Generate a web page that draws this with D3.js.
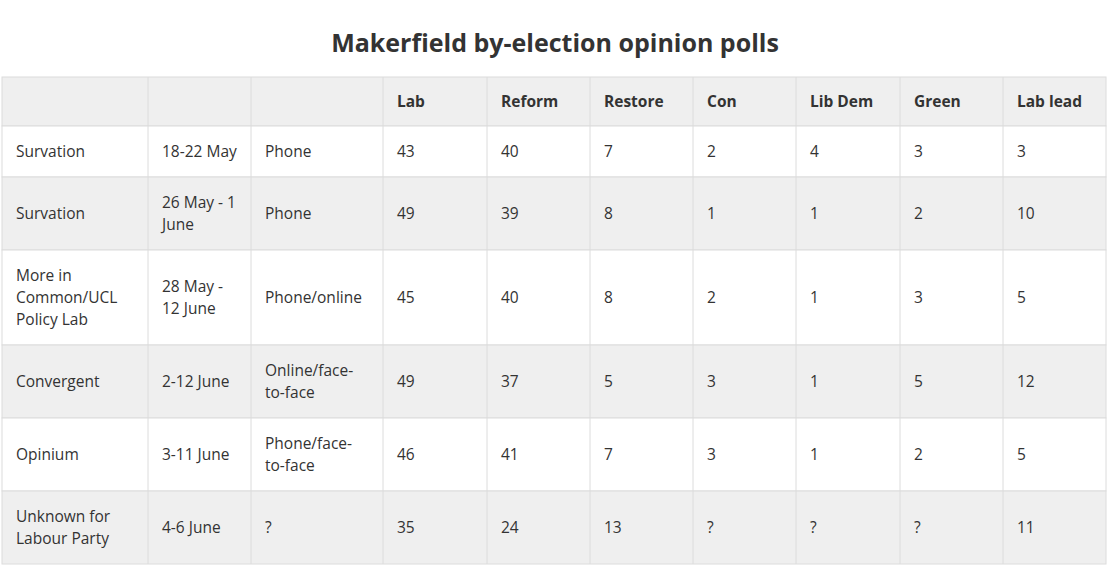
<!DOCTYPE html>
<html><head><meta charset="utf-8">
<script src="https://cdn.jsdelivr.net/npm/d3@7"></script>
<style>body{margin:0;background:#fff;font-family:"Open Sans","Noto Sans",sans-serif;}</style>
</head><body>
<svg id="chart" width="1117" height="576"></svg>
<script>
var title = "Makerfield by-election opinion polls";
var headers = ["", "", "", "Lab", "Reform", "Restore", "Con", "Lib Dem", "Green", "Lab lead"];
// multi-line cells split with "|"
var pollsters = ["Survation", "Survation", "More in|Common/UCL|Policy Lab", "Convergent", "Opinium", "Unknown for|Labour Party"];
var dates = ["18-22 May", "26 May - 1|June", "28 May -|12 June", "2-12 June", "3-11 June", "4-6 June"];
var methods = ["Phone", "Phone", "Phone/online", "Online/face-|to-face", "Phone/face-|to-face", "?"];
var lab = [43, 49, 45, 49, 46, 35];
var reform = [40, 39, 40, 37, 41, 24];
var restore = [7, 8, 8, 5, 7, 13];
var con = [2, 1, 2, 3, 3, "?"];
var libdem = [4, 1, 1, 1, 1, "?"];
var green = [3, 2, 3, 5, 2, "?"];
var lead = [3, 10, 5, 12, 5, 11];

var colEdges = [2, 148, 251, 383, 487, 590, 693, 796, 900, 1003, 1106];
var svg = d3.select("#chart");

svg.append("text").attr("x", 555).attr("y", 52).attr("text-anchor", "middle")
    .style("font-size", "25px").style("font-weight", "700").style("fill", "#333")
    .text(title);

var rows = pollsters.map(function(p, i){
    return [p, dates[i], methods[i], lab[i], reform[i], restore[i], con[i], libdem[i], green[i], lead[i]];
});

function nLines(row){
    return d3.max(row, function(c){ return String(c).split("|").length; });
}

var y = 77;
function drawRow(cells, h, fill, bold){
    var g = svg.append("g");
    g.append("rect").attr("x", 2).attr("y", y).attr("width", 1104).attr("height", h)
        .attr("fill", fill).attr("stroke", "#dcdcdc");
    for (var j = 0; j < cells.length; j++) {
        if (j > 0) g.append("line").attr("x1", colEdges[j]).attr("x2", colEdges[j])
            .attr("y1", y).attr("y2", y + h).attr("stroke", "#dcdcdc");
        var lines = String(cells[j]).split("|");
        var cy = y + h / 2 - (lines.length - 1) * 11;
        var t = g.append("text").attr("x", colEdges[j] + 14).attr("y", cy)
            .attr("dy", "0.35em").style("font-size", "15.5px").style("fill", "#333")
            .style("font-weight", bold ? "700" : "400");
        lines.forEach(function(l, k){
            t.append("tspan").attr("x", colEdges[j] + 14).attr("dy", k === 0 ? "0.35em" : "22px").text(l);
        });
    }
    y += h;
}

drawRow(headers, 49, "#efefef", true);
rows.forEach(function(r, i){
    drawRow(r, 29 + 22 * nLines(r), i % 2 ? "#efefef" : "#ffffff", false);
});
</script>
</body></html>
